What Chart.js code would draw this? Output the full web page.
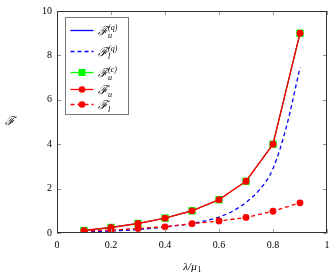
<!DOCTYPE html>
<html>
<head>
<meta charset="utf-8">
<script src="https://cdn.jsdelivr.net/npm/chart.js@4.4.0/dist/chart.umd.min.js"></script>
<style>
    html, body { margin: 0; padding: 0; background: #fff; }
    #wrap { width: 336px; height: 276px; }
</style>
</head>
<body>
<div id="wrap"><canvas id="chart" width="336" height="276"></canvas></div>
<script>
// values
const ratio = [0.1, 0.2, 0.3, 0.4, 0.5, 0.6, 0.7, 0.8, 0.9];
const fuQ = [0.11, 0.25, 0.43, 0.67, 1.0, 1.5, 2.33, 4.0, 9.0];
const fuC = [0.11, 0.25, 0.43, 0.67, 1.0, 1.5, 2.33, 4.0, 9.0];
const fu = [0.11, 0.25, 0.43, 0.67, 1.0, 1.5, 2.33, 4.0, 9.0];
const fl = [0.09, 0.13, 0.2, 0.28, 0.42, 0.54, 0.7, 0.98, 1.36];
const flQRatio = [0.1, 0.15, 0.2, 0.25, 0.3, 0.35, 0.4, 0.45, 0.5, 0.55, 0.6, 0.65, 0.7, 0.75, 0.8, 0.85, 0.9];
const flQ = [0.05, 0.07, 0.09, 0.12, 0.16, 0.21, 0.27, 0.34, 0.43, 0.55, 0.72, 0.98, 1.38, 1.95, 2.9, 4.8, 7.45];

const xTicks = [0, 0.2, 0.4, 0.6, 0.8, 1];
const xTickLabels = ['0', '0.2', '0.4', '0.6', '0.8', '1'];
const yTicks = [0, 2, 4, 6, 8, 10];
const yTickLabels = ['0', '2', '4', '6', '8', '10'];

const legendSubs = ['u', 'l', 'u', 'u', 'l'];
const legendSups = ['(q)', '(q)', '(c)', '', ''];
const yTitle = 'ℱ';
const xTitle = 'λ/μ';
const xTitleSub = '1';

const serif = '"Liberation Serif", "DejaVu Serif", serif';

const pts = (xs, ys) => xs.map((x, i) => ({ x: x, y: ys[i] }));

const datasets = [
    { data: pts(ratio, fuQ), borderColor: '#0000ff', borderWidth: 1, pointRadius: 0, order: 5,
      legend: { dash: [], marker: null } },
    { data: pts(flQRatio, flQ), borderColor: '#0000ff', borderWidth: 1.3, borderDash: [4, 3], pointRadius: 0,
      cubicInterpolationMode: 'monotone', order: 4, legend: { dash: [4, 3], marker: null } },
    { data: pts(ratio, fuC), borderColor: '#00ff00', backgroundColor: '#00ff00', borderWidth: 1,
      pointStyle: 'rect', pointRadius: 5.2, pointBorderWidth: 0, order: 3, legend: { dash: [], marker: 'rect' } },
    { data: pts(ratio, fu), borderColor: '#ff0000', backgroundColor: '#ff0000', borderWidth: 1.4,
      pointStyle: 'circle', pointRadius: 3.4, pointBorderWidth: 0, order: 2, legend: { dash: [], marker: 'circle' } },
    { data: pts(ratio, fl), borderColor: '#ff0000', backgroundColor: '#ff0000', borderWidth: 1.3, borderDash: [4, 3],
      pointStyle: 'circle', pointRadius: 3.4, pointBorderWidth: 0, order: 1, legend: { dash: [4, 3], marker: 'circle' } }
];

function drawLabel(ctx, x, y, sub, sup) {
    ctx.textBaseline = 'alphabetic';
    ctx.textAlign = 'left';
    ctx.font = 'italic 12px ' + serif;
    ctx.fillText('ℱ', x, y + 4);
    const w = ctx.measureText('ℱ').width;
    ctx.font = 'italic 8px ' + serif;
    ctx.fillText(sub, x + w + 0.5, y + 7);
    if (sup) ctx.fillText(sup, x + w + 0.5, y - 1);
}

const framePlugin = {
    id: 'frame',
    afterDraw(chart) {
        const ctx = chart.ctx;
        const a = chart.chartArea;
        const xs = chart.scales.x, ys = chart.scales.y;
        ctx.save();

        // inward ticks on all four sides
        ctx.strokeStyle = '#999';
        ctx.lineWidth = 1;
        ctx.beginPath();
        xTicks.forEach(v => {
            const px = Math.round(xs.getPixelForValue(v)) + 0.5;
            ctx.moveTo(px, a.bottom); ctx.lineTo(px, a.bottom - 4);
            ctx.moveTo(px, a.top); ctx.lineTo(px, a.top + 4);
        });
        yTicks.forEach(v => {
            const py = Math.round(ys.getPixelForValue(v)) + 0.5;
            ctx.moveTo(a.left, py); ctx.lineTo(a.left + 4, py);
            ctx.moveTo(a.right, py); ctx.lineTo(a.right - 4, py);
        });
        ctx.stroke();

        ctx.strokeStyle = '#333';
        ctx.strokeRect(a.left + 0.5, a.top + 0.5, a.right - a.left - 1, a.bottom - a.top - 1);

        // legend box in upper left corner
        const bx = a.left + 8.5, by = a.top + 6.5, bw = 63, bh = 97;
        const rowY = [13, 34, 55, 72, 87];
        ctx.fillStyle = '#fff';
        ctx.fillRect(bx, by, bw, bh);
        ctx.strokeStyle = '#777';
        ctx.strokeRect(bx, by, bw, bh);
        datasets.forEach((d, i) => {
            const y = by + rowY[i];
            ctx.strokeStyle = d.borderColor;
            ctx.lineWidth = 1.3;
            ctx.setLineDash(d.legend.dash);
            ctx.beginPath();
            ctx.moveTo(bx + 5, y); ctx.lineTo(bx + 28, y);
            ctx.stroke();
            ctx.setLineDash([]);
            ctx.fillStyle = d.borderColor;
            if (d.legend.marker === 'rect') {
                ctx.fillRect(bx + 16.5 - 3.5, y - 3.5, 7, 7);
            } else if (d.legend.marker === 'circle') {
                ctx.beginPath();
                ctx.arc(bx + 16.5, y, 3.3, 0, Math.PI * 2);
                ctx.fill();
            }
            ctx.fillStyle = '#000';
            drawLabel(ctx, bx + 32, y, legendSubs[i], legendSups[i]);
        });

        // axis titles
        ctx.fillStyle = '#000';
        ctx.textAlign = 'center';
        ctx.textBaseline = 'middle';
        ctx.font = 'italic 12px ' + serif;
        ctx.fillText(yTitle, 10, (a.top + a.bottom) / 2);

        const cx = (a.left + a.right) / 2;
        ctx.font = 'italic 11px ' + serif;
        const tw = ctx.measureText(xTitle).width;
        ctx.font = '8px ' + serif;
        const sw = ctx.measureText(xTitleSub).width;
        const x0 = cx - (tw + sw) / 2;
        ctx.textAlign = 'left';
        ctx.textBaseline = 'alphabetic';
        ctx.font = 'italic 11px ' + serif;
        ctx.fillText(xTitle, x0, 270);
        ctx.font = '8px ' + serif;
        ctx.fillText(xTitleSub, x0 + tw + 0.5, 272);

        ctx.restore();
    }
};

new Chart(document.getElementById('chart'), {
    type: 'line',
    data: { datasets: datasets },
    options: {
        responsive: false,
        animation: false,
        layout: { padding: { top: 9, right: 9, left: 0, bottom: 0 } },
        plugins: { legend: { display: false }, tooltip: { enabled: false } },
        scales: {
            x: {
                type: 'linear', min: 0, max: 1,
                afterBuildTicks: s => { s.ticks = xTicks.map(v => ({ value: v })); },
                afterFit: s => { s.height = 43; },
                grid: { display: false, drawTicks: false },
                border: { display: false },
                ticks: { color: '#000', padding: 6, maxRotation: 0, font: { family: serif, size: 10 },
                         callback: (v, i) => xTickLabels[i] }
            },
            y: {
                type: 'linear', min: 0, max: 10,
                afterBuildTicks: s => { s.ticks = yTicks.map(v => ({ value: v })); },
                afterFit: s => { s.width = 57; },
                grid: { display: false, drawTicks: false },
                border: { display: false },
                ticks: { color: '#000', padding: 5, font: { family: serif, size: 10 },
                         callback: (v, i) => yTickLabels[i] }
            }
        }
    },
    plugins: [framePlugin]
});
</script>
</body>
</html>
